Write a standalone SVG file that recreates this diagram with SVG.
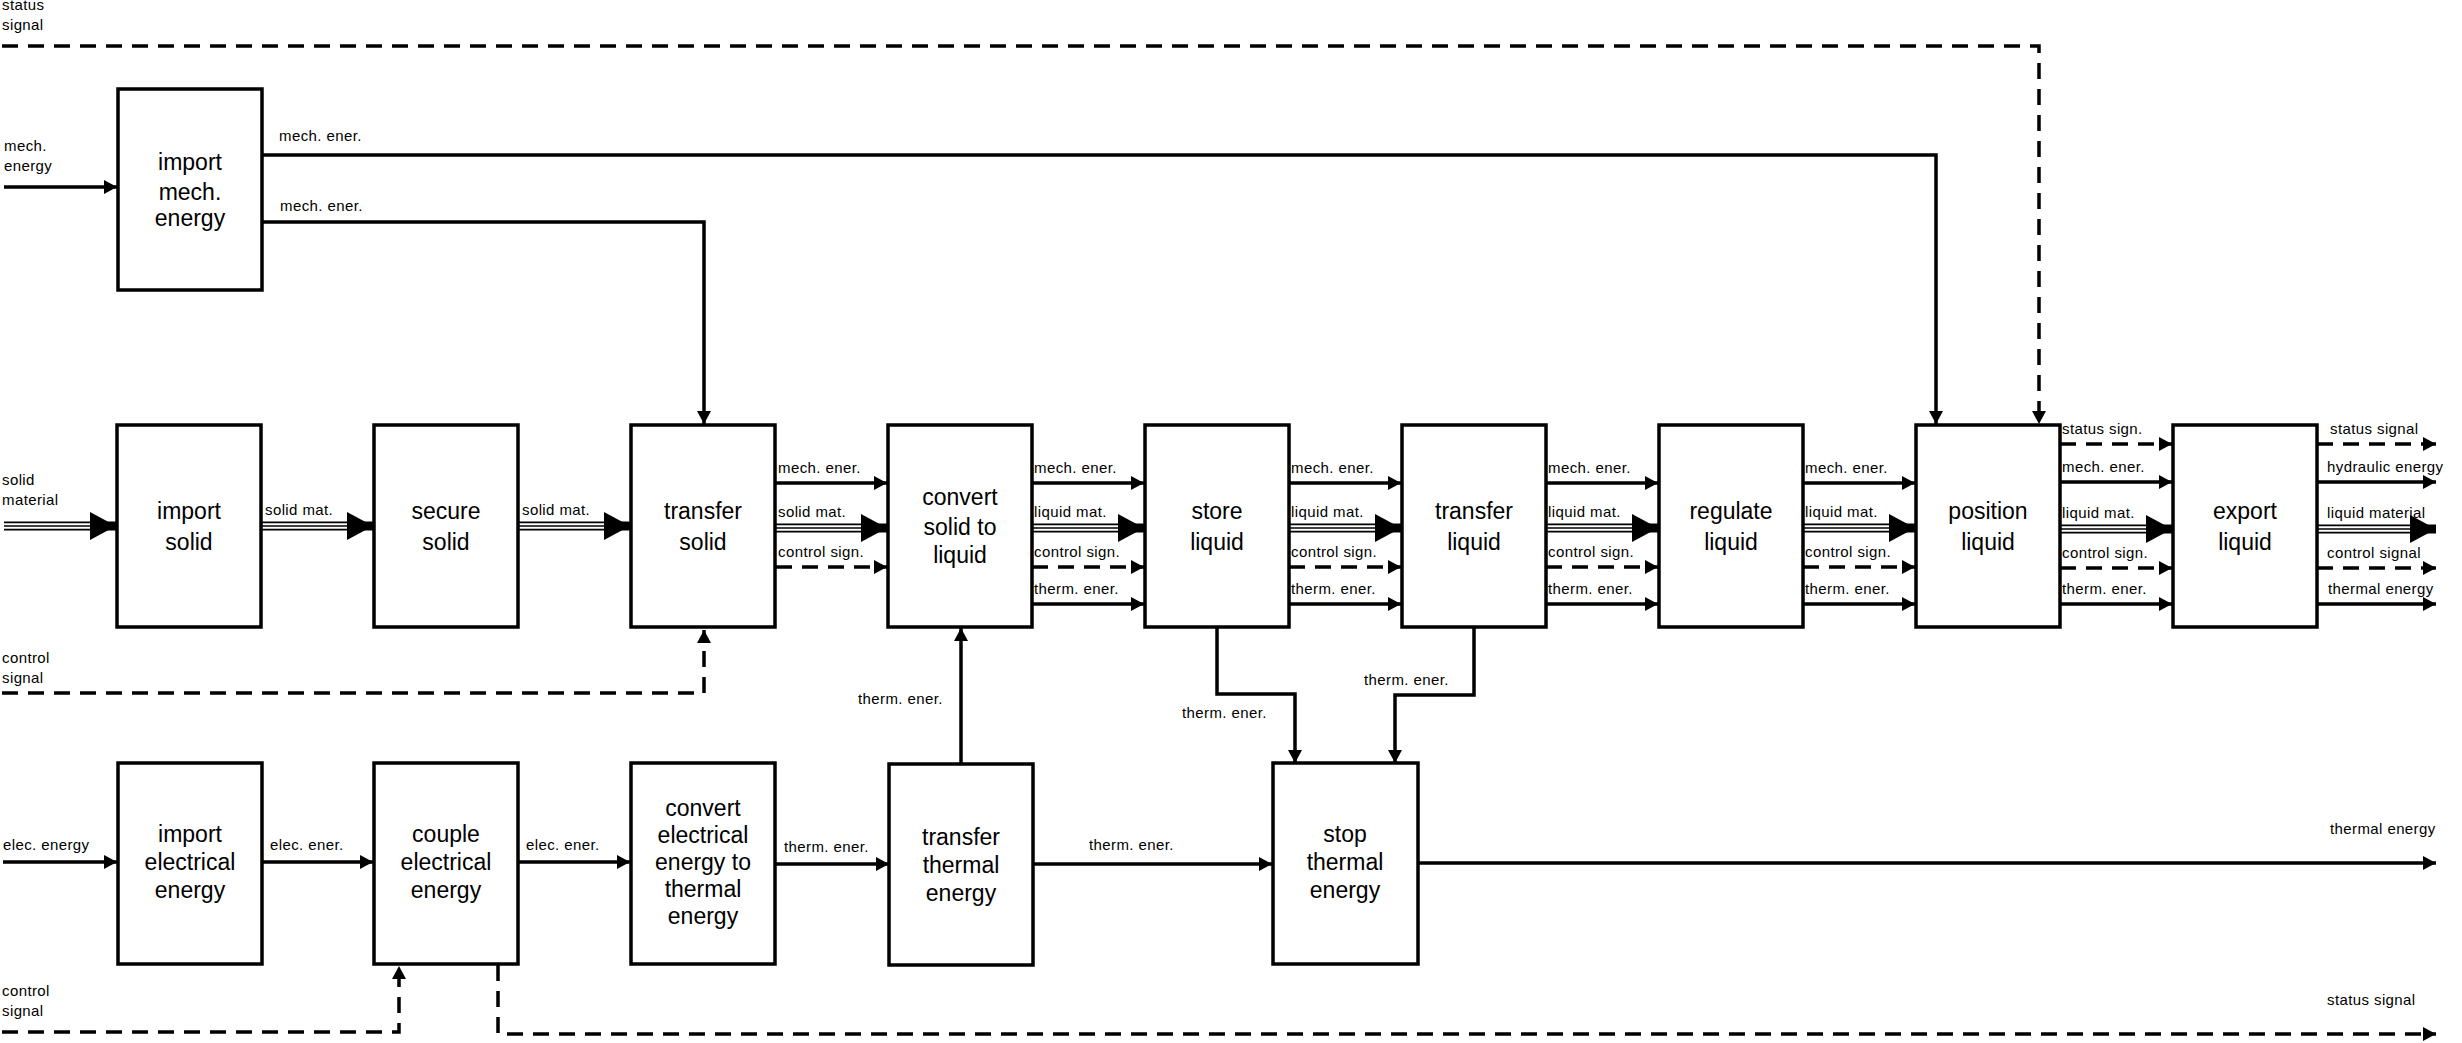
<svg xmlns="http://www.w3.org/2000/svg" width="2462" height="1043" viewBox="0 0 2462 1043">
<style>
.b{fill:#fff;stroke:#000;stroke-width:3.5}
.t{font-family:"Liberation Sans",Arial,sans-serif;font-size:23px;text-anchor:middle;fill:#000}
.l{font-family:"Liberation Sans",Arial,sans-serif;font-size:15px;fill:#000;letter-spacing:0.4px}
.s{fill:none;stroke:#000;stroke-width:3.5;marker-end:url(#a)}
.d{fill:none;stroke:#000;stroke-width:3.5;stroke-dasharray:16 10;marker-end:url(#a)}
.dn{fill:none;stroke:#000;stroke-width:3.5;stroke-dasharray:16 10}
.m1{fill:none;stroke:#000;stroke-width:9;marker-end:url(#A)}
.m2{fill:none;stroke:#fff;stroke-width:5.5}
.m3{fill:none;stroke:#000;stroke-width:1.5}
</style>
<defs>
<marker id="a" markerUnits="userSpaceOnUse" markerWidth="14" markerHeight="14" refX="13" refY="7" orient="auto"><path d="M0,0 L13,7 L0,14 z" fill="#000"/></marker>
<marker id="A" markerUnits="userSpaceOnUse" markerWidth="26" markerHeight="28" refX="26" refY="14" orient="auto"><path d="M0,0 L26,14 L0,28 z" fill="#000"/></marker>
</defs>
<g id="connectors">
<!-- top status -->
<path class="d" d="M2,46 H2039 V424"/>
<text class="l" x="2" y="10">status</text><text class="l" x="2" y="30">signal</text>
<!-- mech energy in -->
<path class="s" d="M4,187 H117"/>
<text class="l" x="4" y="151">mech.</text><text class="l" x="4" y="171">energy</text>
<path class="s" d="M262,155 H1936 V424"/>
<text class="l" x="279" y="141">mech. ener.</text>
<path class="s" d="M262,222 H704 V424"/>
<text class="l" x="280" y="211">mech. ener.</text>
<!-- solid material in -->
<path class="m1" d="M4,526 H116"/><path class="m2" d="M4,526 H90"/><path class="m3" d="M4,526 H92"/>
<text class="l" x="2" y="485">solid</text><text class="l" x="2" y="505">material</text>
<path class="m1" d="M262,526 H373"/><path class="m2" d="M262,526 H347"/><path class="m3" d="M262,526 H349"/>
<text class="l" x="265" y="515">solid mat.</text>
<path class="m1" d="M518,526 H630"/><path class="m2" d="M518,526 H604"/><path class="m3" d="M518,526 H606"/>
<text class="l" x="522" y="515">solid mat.</text>
<!-- control in to transfer solid -->
<path class="d" d="M2,693 H704 V630"/>
<text class="l" x="2" y="663">control</text><text class="l" x="2" y="683">signal</text>
<!-- transfer solid -> convert -->
<path class="s" d="M776,483 H887"/><text class="l" x="778" y="473">mech. ener.</text>
<path class="m1" d="M776,528 H887"/><path class="m2" d="M776,528 H861"/><path class="m3" d="M776,528 H863"/><text class="l" x="778" y="517">solid mat.</text>
<path class="d" d="M776,567 H887"/><text class="l" x="778" y="557">control sign.</text>
<!-- convert -> store -->
<path class="s" d="M1032,483 H1144"/><text class="l" x="1034" y="473">mech. ener.</text>
<path class="m1" d="M1032,528 H1144"/><path class="m2" d="M1032,528 H1118"/><path class="m3" d="M1032,528 H1120"/><text class="l" x="1034" y="517">liquid mat.</text>
<path class="d" d="M1032,567 H1144"/><text class="l" x="1034" y="557">control sign.</text>
<path class="s" d="M1032,604 H1144"/><text class="l" x="1034" y="594">therm. ener.</text>
<!-- store -> transfer liquid -->
<path class="s" d="M1289,483 H1401"/><text class="l" x="1291" y="473">mech. ener.</text>
<path class="m1" d="M1289,528 H1401"/><path class="m2" d="M1289,528 H1375"/><path class="m3" d="M1289,528 H1377"/><text class="l" x="1291" y="517">liquid mat.</text>
<path class="d" d="M1289,567 H1401"/><text class="l" x="1291" y="557">control sign.</text>
<path class="s" d="M1289,604 H1401"/><text class="l" x="1291" y="594">therm. ener.</text>
<!-- transfer liquid -> regulate -->
<path class="s" d="M1546,483 H1658"/><text class="l" x="1548" y="473">mech. ener.</text>
<path class="m1" d="M1546,528 H1658"/><path class="m2" d="M1546,528 H1632"/><path class="m3" d="M1546,528 H1634"/><text class="l" x="1548" y="517">liquid mat.</text>
<path class="d" d="M1546,567 H1658"/><text class="l" x="1548" y="557">control sign.</text>
<path class="s" d="M1546,604 H1658"/><text class="l" x="1548" y="594">therm. ener.</text>
<!-- regulate -> position -->
<path class="s" d="M1803,483 H1915"/><text class="l" x="1805" y="473">mech. ener.</text>
<path class="m1" d="M1803,528 H1915"/><path class="m2" d="M1803,528 H1889"/><path class="m3" d="M1803,528 H1891"/><text class="l" x="1805" y="517">liquid mat.</text>
<path class="d" d="M1803,567 H1915"/><text class="l" x="1805" y="557">control sign.</text>
<path class="s" d="M1803,604 H1915"/><text class="l" x="1805" y="594">therm. ener.</text>
<!-- position -> export -->
<path class="d" d="M2060,444 H2172"/><text class="l" x="2062" y="434">status sign.</text>
<path class="s" d="M2060,482 H2172"/><text class="l" x="2062" y="472">mech. ener.</text>
<path class="m1" d="M2060,529 H2172"/><path class="m2" d="M2060,529 H2146"/><path class="m3" d="M2060,529 H2148"/><text class="l" x="2062" y="518">liquid mat.</text>
<path class="d" d="M2060,568 H2172"/><text class="l" x="2062" y="558">control sign.</text>
<path class="s" d="M2060,604 H2172"/><text class="l" x="2062" y="594">therm. ener.</text>
<!-- export outputs -->
<path class="d" d="M2317,444 H2436"/><text class="l" x="2330" y="434">status signal</text>
<path class="s" d="M2317,482 H2436"/><text class="l" x="2327" y="472">hydraulic energy</text>
<path class="m1" d="M2317,529 H2436"/><path class="m2" d="M2317,529 H2410"/><path class="m3" d="M2317,529 H2412"/><text class="l" x="2327" y="518">liquid material</text>
<path class="d" d="M2317,568 H2436"/><text class="l" x="2327" y="558">control signal</text>
<path class="s" d="M2317,604 H2436"/><text class="l" x="2328" y="594">thermal energy</text>
<!-- row 3 -->
<path class="s" d="M3,862 H117"/><text class="l" x="3" y="850">elec. energy</text>
<path class="s" d="M262,862 H373"/><text class="l" x="270" y="850">elec. ener.</text>
<path class="s" d="M518,862 H630"/><text class="l" x="526" y="850">elec. ener.</text>
<path class="s" d="M776,864 H889"/><text class="l" x="784" y="852">therm. ener.</text>
<path class="s" d="M1033,864 H1272"/><text class="l" x="1089" y="850">therm. ener.</text>
<path class="s" d="M961,763 V628"/><text class="l" x="858" y="704">therm. ener.</text>
<path class="s" d="M1217,628 V694 H1295 V763"/><text class="l" x="1182" y="718">therm. ener.</text>
<path class="s" d="M1474,628 V695 H1395 V763"/><text class="l" x="1364" y="685">therm. ener.</text>
<path class="s" d="M1418,863 H2436"/><text class="l" x="2330" y="834">thermal energy</text>
<path class="d" d="M2,1032 H399 V966"/>
<text class="l" x="2" y="996">control</text><text class="l" x="2" y="1016">signal</text>
<path class="d" d="M498,965 V1034 H2436"/><text class="l" x="2327" y="1005">status signal</text>
</g>
<g id="n1"><rect class="b" x="118" y="89" width="144" height="201"/><text class="t" x="190" y="170">import</text><text class="t" x="190" y="200">mech.</text><text class="t" x="190" y="226">energy</text></g>
<g id="n2"><rect class="b" x="117" y="425" width="144" height="202"/><text class="t" x="189" y="519">import</text><text class="t" x="189" y="550">solid</text></g>
<g id="n3"><rect class="b" x="374" y="425" width="144" height="202"/><text class="t" x="446" y="519">secure</text><text class="t" x="446" y="550">solid</text></g>
<g id="n4"><rect class="b" x="631" y="425" width="144" height="202"/><text class="t" x="703" y="519">transfer</text><text class="t" x="703" y="550">solid</text></g>
<g id="n5"><rect class="b" x="888" y="425" width="144" height="202"/><text class="t" x="960" y="505">convert</text><text class="t" x="960" y="535">solid to</text><text class="t" x="960" y="563">liquid</text></g>
<g id="n6"><rect class="b" x="1145" y="425" width="144" height="202"/><text class="t" x="1217" y="519">store</text><text class="t" x="1217" y="550">liquid</text></g>
<g id="n7"><rect class="b" x="1402" y="425" width="144" height="202"/><text class="t" x="1474" y="519">transfer</text><text class="t" x="1474" y="550">liquid</text></g>
<g id="n8"><rect class="b" x="1659" y="425" width="144" height="202"/><text class="t" x="1731" y="519">regulate</text><text class="t" x="1731" y="550">liquid</text></g>
<g id="n9"><rect class="b" x="1916" y="425" width="144" height="202"/><text class="t" x="1988" y="519">position</text><text class="t" x="1988" y="550">liquid</text></g>
<g id="n10"><rect class="b" x="2173" y="425" width="144" height="202"/><text class="t" x="2245" y="519">export</text><text class="t" x="2245" y="550">liquid</text></g>
<g id="n11"><rect class="b" x="118" y="763" width="144" height="201"/><text class="t" x="190" y="842">import</text><text class="t" x="190" y="870">electrical</text><text class="t" x="190" y="898">energy</text></g>
<g id="n12"><rect class="b" x="374" y="763" width="144" height="201"/><text class="t" x="446" y="842">couple</text><text class="t" x="446" y="870">electrical</text><text class="t" x="446" y="898">energy</text></g>
<g id="n13"><rect class="b" x="631" y="763" width="144" height="201"/><text class="t" x="703" y="816">convert</text><text class="t" x="703" y="843">electrical</text><text class="t" x="703" y="870">energy to</text><text class="t" x="703" y="897">thermal</text><text class="t" x="703" y="924">energy</text></g>
<g id="n14"><rect class="b" x="889" y="764" width="144" height="201"/><text class="t" x="961" y="845">transfer</text><text class="t" x="961" y="873">thermal</text><text class="t" x="961" y="901">energy</text></g>
<g id="n15"><rect class="b" x="1273" y="763" width="145" height="201"/><text class="t" x="1345" y="842">stop</text><text class="t" x="1345" y="870">thermal</text><text class="t" x="1345" y="898">energy</text></g>
</svg>
